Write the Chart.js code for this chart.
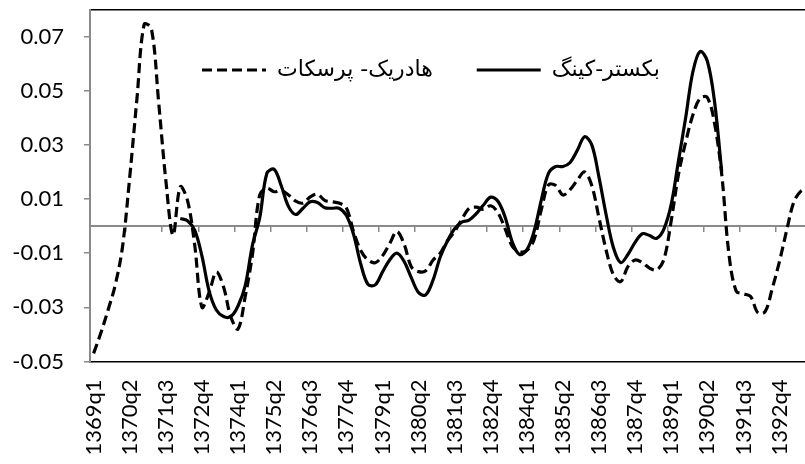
<!DOCTYPE html>
<html>
<head>
<meta charset="utf-8">
<script src="https://cdn.jsdelivr.net/npm/chart.js@4"></script>
<style>
  html, body { margin: 0; padding: 0; background: #fff; overflow: hidden; }
  #wrap { width: 805px; height: 464px; overflow: hidden; }
  #chart { display: block; }
</style>
</head>
<body>
<div id="wrap"><canvas id="chart" width="812" height="464"></canvas></div>
<script>
// categorias trimestrais 1369q1 .. 1393q4 (o gráfico continua além da borda direita)
const firstYear = 1369;
const quarterCount = 100;
const quarters = [];
for (let i = 0; i < quarterCount; i++) {
    quarters.push((firstYear + Math.floor(i / 4)) + 'q' + (i % 4 + 1));
}
const labelEvery = 5;

const yTicks = [-0.05, -0.03, -0.01, 0.01, 0.03, 0.05, 0.07];
const yMin = -0.05;
const yMax = 0.08;

const hpName = 'هادریک- پرسکات';
const bkName = 'بکستر-کینگ';

// هادریک- پرسکات (tracejado)
const hpValues = [
    -0.047, -0.0395, -0.031, -0.0217, -0.0077, 0.018, 0.047, 0.0745, 0.073, 0.046,
    0.017, -0.0033, 0.0145, 0.0095, -0.007, -0.030, -0.0245, -0.017, -0.0225, -0.0335,
    -0.038, -0.026, -0.0105, 0.0115, 0.014, 0.0127, 0.0132, 0.0115, 0.0092, 0.0085,
    0.0108, 0.0118, 0.0095, 0.009, 0.0085, 0.0068, -0.002, -0.009, -0.0125, -0.0135,
    -0.011, -0.0065, -0.002, -0.0066, -0.015, -0.0168, -0.0165, -0.0126, -0.010, -0.0055,
    -0.002, 0.0025, 0.0065, 0.007, 0.0062, 0.0075, 0.005, -0.001, -0.0075, -0.0095,
    -0.009, -0.005, 0.006, 0.0152, 0.015, 0.0115, 0.0135, 0.017, 0.020, 0.015,
    0.003, -0.009, -0.018, -0.0205, -0.015, -0.0125, -0.0135, -0.0155, -0.0162, -0.0122,
    0.002, 0.019, 0.031, 0.041, 0.0472, 0.0475, 0.038, 0.019, -0.0105, -0.024,
    -0.025, -0.026, -0.032, -0.0316, -0.023, -0.013, -0.0015, 0.009, 0.013, 0.014
];

// بکستر-کینگ (contínua), sem valores nas pontas
const bkValues = [
    null, null, null, null, null, null, null, null, null, null,
    null, null, 0.0028, 0.002, -0.0015, -0.011, -0.024, -0.031, -0.0334, -0.0334,
    -0.0295, -0.022, -0.007, 0.003, 0.0195, 0.021, 0.0148, 0.0072, 0.0043, 0.0066,
    0.009, 0.0087, 0.0068, 0.0066, 0.0066, 0.004, -0.003, -0.014, -0.0215, -0.0217,
    -0.017, -0.0125, -0.010, -0.013, -0.019, -0.0245, -0.0254, -0.020, -0.0115, -0.0055,
    -0.001, 0.0015, 0.0022, 0.0046, 0.0078, 0.0107, 0.0092, 0.0033, -0.006, -0.0105,
    -0.0088, -0.002, 0.0095, 0.0195, 0.022, 0.022, 0.0235, 0.028, 0.033, 0.030,
    0.018, 0.004, -0.008, -0.0135, -0.0105, -0.006, -0.0028, -0.0035, -0.0045, -0.001,
    0.008, 0.024, 0.040, 0.057, 0.0645, 0.061, 0.046, 0.020, null, null,
    null, null, null, null, null, null, null, null, null, null
];

const axisGray = '#8a8a8a';
const tickFont = { family: 'Lato', size: 22 };

function noPadding(scale) {
    scale.paddingLeft = 0;
    scale.paddingRight = 0;
    scale.paddingTop = 0;
    scale.paddingBottom = 0;
}

// legenda dentro da área do gráfico
const legendInPlot = {
    id: 'legendInPlot',
    beforeUpdate(chart) {
        const legend = chart.legend;
        if (legend && !legend._inPlot) {
            const fit = legend.fit;
            legend.fit = function () {
                fit.call(this);
                this.height = 0;
            };
            legend._inPlot = true;
        }
    },
    afterLayout(chart) {
        const legend = chart.legend;
        const pad = legend.options.labels.padding;
        const size = legend.options.labels.font.size;
        legend.left = 202 - pad;
        legend.right = chart.width;
        legend.top = 70 - pad - size / 2;
        legend.bottom = legend.top + 2 * pad + size;
    }
};

new Chart(document.getElementById('chart'), {
    type: 'line',
    data: {
        labels: quarters,
        datasets: [
            {
                label: hpName,
                data: hpValues,
                borderColor: '#000',
                backgroundColor: '#000',
                borderWidth: 3.2,
                borderDash: [10, 5],
                pointRadius: 0,
                tension: 0.35,
                fill: false
            },
            {
                label: bkName,
                data: bkValues,
                borderColor: '#000',
                backgroundColor: '#000',
                borderWidth: 3.2,
                pointRadius: 0,
                tension: 0.35,
                fill: false
            }
        ]
    },
    options: {
        responsive: false,
        animation: false,
        devicePixelRatio: 1,
        layout: {
            autoPadding: false,
            padding: { top: 9.5, right: 0, bottom: 0, left: 0 }
        },
        plugins: {
            tooltip: { enabled: false },
            legend: {
                position: 'top',
                align: 'start',
                labels: {
                    usePointStyle: true,
                    pointStyle: 'line',
                    pointStyleWidth: 64,
                    padding: 44,
                    color: '#000',
                    font: { family: 'DejaVu Sans', size: 22 },
                    generateLabels: (chart) => {
                        const items = Chart.defaults.plugins.legend.labels.generateLabels(chart);
                        items.forEach(item => {
                            const ds = chart.data.datasets[item.datasetIndex];
                            item.lineDash = ds.borderDash || [];
                            item.lineWidth = ds.borderWidth;
                            item.strokeStyle = ds.borderColor;
                        });
                        return items;
                    }
                }
            }
        },
        scales: {
            x: {
                type: 'category',
                position: 'bottom',
                offset: true,
                grid: { display: true, drawOnChartArea: false, drawTicks: false },
                border: { display: true, color: '#000', width: 1.5 },
                ticks: {
                    autoSkip: false,
                    maxRotation: 90,
                    minRotation: 90,
                    padding: 18,
                    color: '#000',
                    font: tickFont,
                    callback: (value, index) => index % labelEvery === 0 ? quarters[index] : ''
                },
                afterFit: (scale) => { scale.height = 102.5; noPadding(scale); }
            },
            xTop: {
                type: 'category',
                axis: 'x',
                position: 'top',
                offset: true,
                grid: { display: true, drawOnChartArea: false, drawTicks: false },
                border: { display: true, color: '#000', width: 1.5 },
                ticks: { display: false },
                afterFit: noPadding
            },
            xZero: {
                type: 'category',
                axis: 'x',
                position: { y: 0 },
                offset: true,
                grid: {
                    offset: true,
                    drawOnChartArea: false,
                    drawTicks: true,
                    tickLength: 5,
                    lineWidth: 1.5,
                    tickColor: (ctx) => ctx.index % labelEvery === 0 ? axisGray : 'rgba(0,0,0,0)'
                },
                border: { display: true, color: axisGray, width: 2 },
                ticks: { display: false },
                afterFit: noPadding
            },
            y: {
                type: 'linear',
                position: 'left',
                min: yMin,
                max: yMax,
                afterBuildTicks: (scale) => {
                    scale.ticks = yTicks.map(v => ({ value: v }));
                },
                grid: {
                    drawOnChartArea: false,
                    drawTicks: true,
                    tickLength: 6,
                    lineWidth: 1.5,
                    color: axisGray
                },
                border: { display: true, color: axisGray, width: 2 },
                ticks: {
                    padding: 20,
                    color: '#000',
                    font: tickFont,
                    callback: (value) => value.toFixed(2)
                },
                afterFit: (scale) => { scale.width = 90; noPadding(scale); }
            }
        }
    },
    plugins: [legendInPlot]
});
</script>
</body>
</html>
